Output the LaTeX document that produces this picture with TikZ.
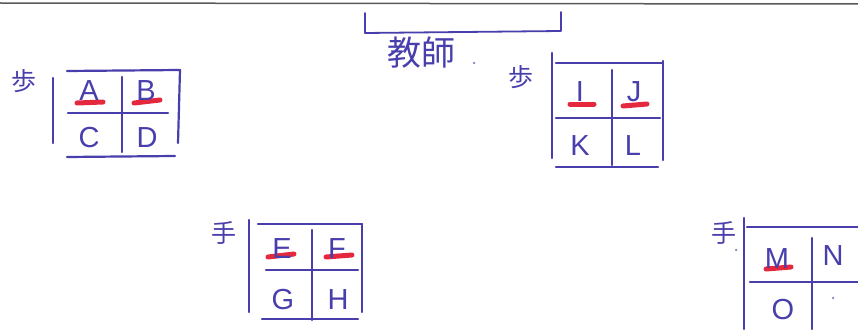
\documentclass[tikz,border=0pt]{standalone}
\usepackage{fontspec}
\setmainfont{Liberation Sans}
\newfontfamily\jpfont{Noto Sans CJK JP}
\definecolor{pen}{RGB}{72,62,172}
\definecolor{marker}{RGB}{228,40,62}

\begin{document}
\begin{tikzpicture}[
          x=1pt, y=-1pt,
          stroke/.style={draw=pen, line width=2.2pt, line cap=round, line join=round},
          hilite/.style={draw=marker, line width=5pt, line cap=round},
          letter/.style={text=pen, font=\fontsize{29}{29}\selectfont, inner sep=0pt},
          kanji/.style={text=pen, font=\jpfont\fontsize{25}{25}\selectfont, inner sep=0pt},
          dotmark/.style={circle, fill=pen!70, inner sep=0pt, minimum size=2.5pt}
    ]
      \useasboundingbox (0,0) rectangle (858,329);
      \draw[gray!70!black, line width=1.5pt] (0,3) -- (858,4);

      % title with bracket
      \draw[stroke, line width=1.8pt] (365,13) -- (365,33) -- (561,31) -- (561,12);
      \node[kanji, font=\jpfont\fontsize{34}{34}\selectfont] (kyoshi) at (421,53) {教師};
      \node[dotmark] (kyoshidot) at (474,63) {};

      % upper left
      \node[kanji] (ho1) at (24,81) {歩};
      \draw[stroke] (53,78) -- (53,143);
      \draw[stroke] (67,71) -- (180,70) -- (178,143);
      \draw[stroke] (68,113) -- (168,113);
      \draw[stroke] (122,77) -- (122,152);
      \draw[stroke] (67,157) -- (175,156);
      \draw[hilite] (77,103) -- (103,102);
      \draw[hilite] (134,103) -- (160,100);
      \node[letter] (A) at (89,91) {A};
      \node[letter] (B) at (146,91) {B};
      \node[letter] (C) at (89,138) {C};
      \node[letter] (D) at (147,138) {D};

      % upper right
      \node[kanji] (ho2) at (521,77) {歩};
      \draw[stroke] (552,53) -- (552,158);
      \draw[stroke] (556,63) -- (663,63);
      \draw[stroke] (663,61) -- (663,160);
      \draw[stroke] (556,118) -- (660,118);
      \draw[stroke] (612,70) -- (612,165);
      \draw[stroke] (556,167) -- (658,167);
      \draw[hilite] (570,104) -- (594,104);
      \draw[hilite] (623,106) -- (647,104);
      \node[letter] (I) at (580,92) {I};
      \node[letter] (J) at (634,92) {J};
      \node[letter] (K) at (580,146) {K};
      \node[letter] (L) at (633,146) {L};

      % lower middle
      \node[kanji] (te1) at (224,233) {手};
      \draw[stroke] (249,220) -- (249,312);
      \draw[stroke] (258,224) -- (362,224);
      \draw[stroke] (362,224) -- (362,312);
      \draw[stroke] (266,270) -- (358,270);
      \draw[stroke] (312,230) -- (312,320);
      \draw[stroke] (262,319) -- (358,319);
      \draw[hilite] (268,257) -- (294,254);
      \draw[hilite] (326,257) -- (352,255);
      \node[letter] (E) at (282,249) {E};
      \node[letter] (F) at (337,249) {F};
      \node[letter] (G) at (283,300) {G};
      \node[letter] (H) at (338,300) {H};

      % lower right
      \node[kanji] (te2) at (724,233) {手};
      \node[dotmark] (te2dot) at (736,250) {};
      \draw[stroke] (744,218) -- (744,329);
      \draw[stroke] (747,227) -- (858,227);
      \draw[stroke] (750,282) -- (858,282);
      \draw[stroke] (812,238) -- (812,329);
      \draw[hilite] (766,269) -- (791,267);
      \node[letter] (M) at (777,259) {M};
      \node[letter] (N) at (833,256) {N};
      \node[letter] (O) at (783,310) {O};
      \node[dotmark] (Pdot) at (833,298) {};
\end{tikzpicture}
\end{document}
